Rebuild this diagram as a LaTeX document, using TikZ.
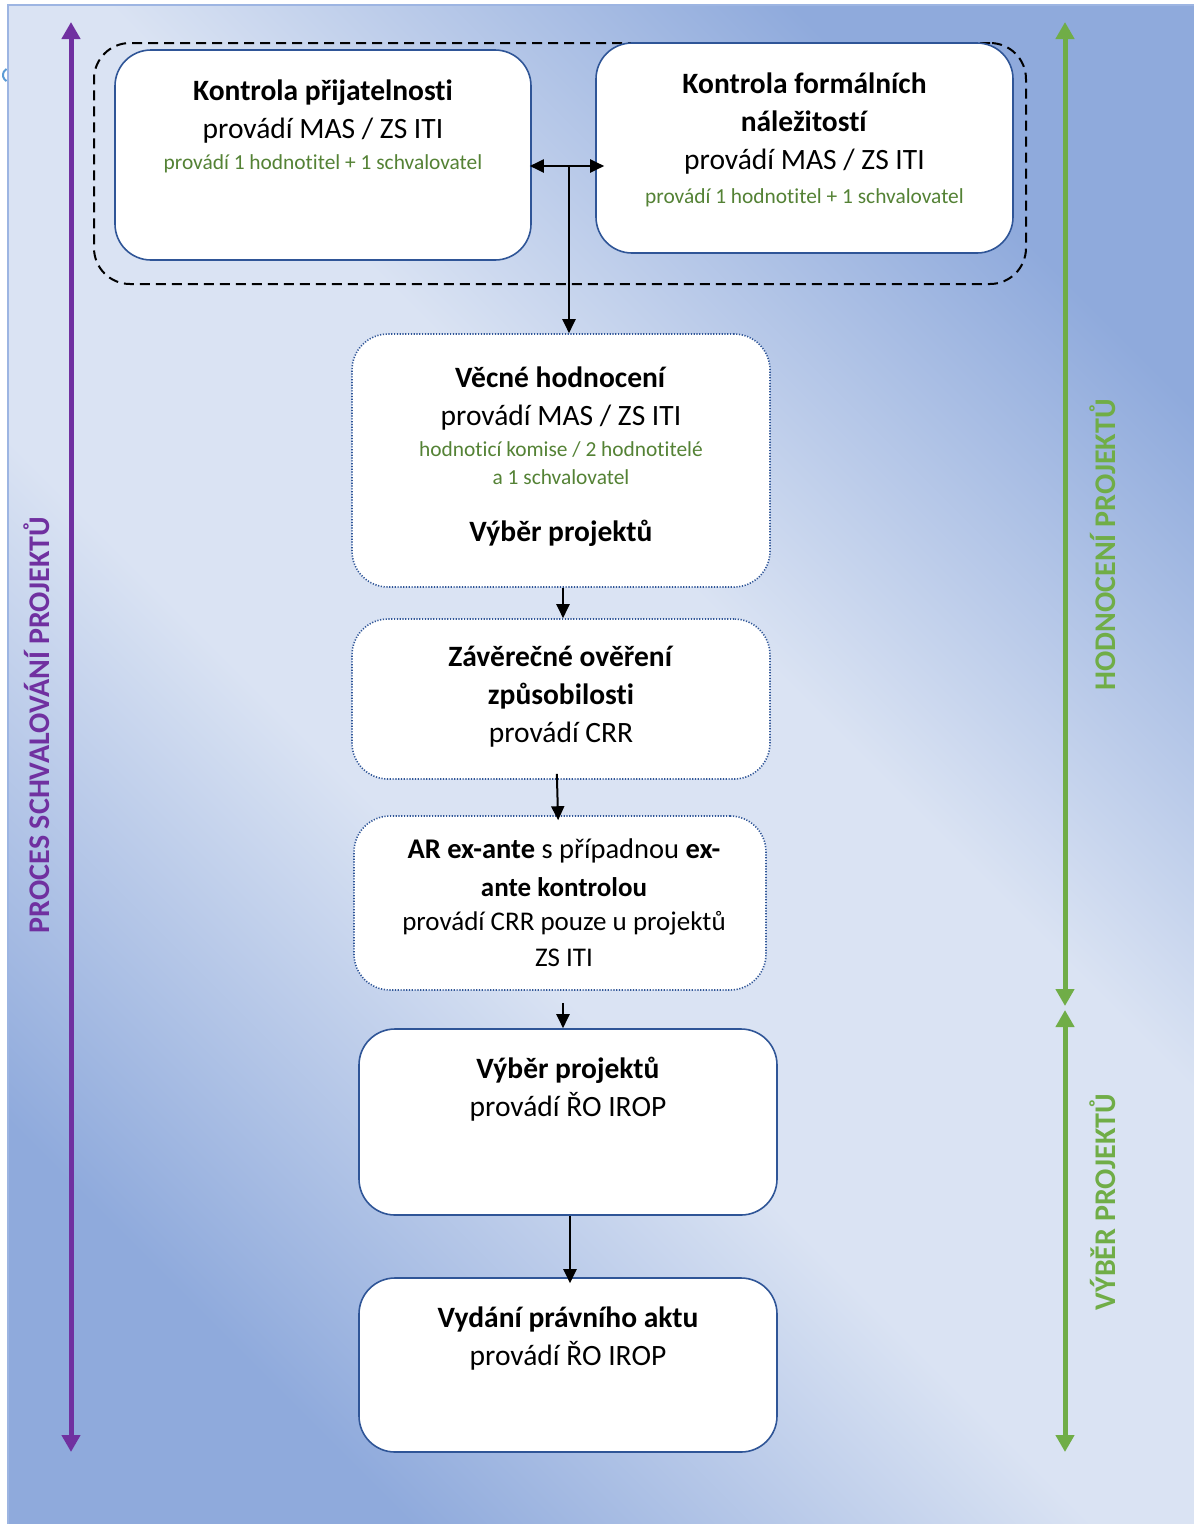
\documentclass[tikz,border=0pt]{standalone}
\usepackage{fontspec}
\setmainfont{Carlito}[Ligatures=NoCommon]
\usetikzlibrary{positioning,arrows.meta}
\definecolor{frame}{HTML}{2F5597}
\definecolor{note}{HTML}{548235}
\definecolor{proc}{HTML}{7030A0}
\definecolor{phase}{HTML}{70AD47}
\definecolor{bglight}{HTML}{DAE3F3}
\definecolor{bgdark}{HTML}{8FAADC}
\definecolor{bgedge}{HTML}{9DB5E2}
\definecolor{stray}{HTML}{5B9BD5}
\pgfdeclareverticalshading{bgband}{100bp}{color(0bp)=(bgdark); color(25bp)=(bgdark);
  color(43bp)=(bglight); color(57bp)=(bglight); color(75bp)=(bgdark); color(100bp)=(bgdark)}
\newcommand\nt{\fontsize{21.4}{28}\selectfont\color{note}}

\begin{document}
\begin{tikzpicture}[x=1pt, y=-1pt,
  solidbox/.style={draw=frame, line width=1.6pt, rounded corners=36pt, fill=white, inner sep=0pt},
  dotbox/.style={solidbox, dash pattern=on 1.2pt off 1.6pt},
  txt/.style={align=center, inner sep=0pt, font=\fontsize{29.5}{38}\selectfont},
  flow/.style={line width=2pt, -{Triangle[length=14pt,width=13pt]}},
  span/.style={line width=5pt, {Triangle[length=17pt,width=18pt]}-{Triangle[length=17pt,width=18pt]}},
  side/.style={rotate=90, inner sep=0pt, font=\fontsize{30}{34}\selectfont\bfseries}
]
\useasboundingbox (0,0) rectangle (1194,1524);

% page background
\draw[stray, line width=2pt] (10,75) ++(120:7) arc[start angle=120, end angle=240, radius=7];
\shade[shading=bgband, shading angle=-45] (8,5) rectangle (1194,1524);
\draw[bgedge, line width=2pt] (8,1524) -- (8,5) -- (1194,5);

% first two checks, grouped
\node[draw, line width=2pt, dash pattern=on 10pt off 6pt, rounded corners=36pt,
      minimum width=932pt, minimum height=241pt] (grp) at (560,163.5) {};
\node[solidbox, minimum width=416pt, minimum height=210pt] (prij) at (323,155) {};
\node[solidbox, minimum width=417pt, minimum height=210pt] (form) at (804.5,148) {};

\node[dotbox, minimum width=418pt, minimum height=253pt] (vecne) at (561,460.5) {};
\node[dotbox, minimum width=418pt, minimum height=160pt] (zav) at (561,699) {};
\node[dotbox, minimum width=412pt, minimum height=174pt] (ar) at (560,903) {};
\node[solidbox, minimum width=418pt, minimum height=186pt] (vyber) at (568,1122) {};
\node[solidbox, minimum width=418pt, minimum height=174pt] (vydani) at (568,1365) {};

\node[txt, below=30pt of prij.north] (prij-t) {%
  \textbf{Kontrola přijatelnosti}\\ provádí MAS / ZS ITI\\[-7pt]
  {\nt provádí 1 hodnotitel + 1 schvalovatel}};
\node[txt, below=30pt of form.north] (form-t) {%
  \textbf{Kontrola formálních}\\ \textbf{náležitostí}\\ provádí MAS / ZS ITI\\[-4pt]
  {\nt provádí 1 hodnotitel + 1 schvalovatel}};
\node[txt, below=33pt of vecne.north] (vecne-t) {%
  \textbf{Věcné hodnocení}\\ provádí MAS / ZS ITI\\[-7pt]
  {\nt hodnoticí komise / 2 hodnotitelé}\\[-10pt] {\nt a 1 schvalovatel}\\[19pt]
  \textbf{Výběr projektů}};
\node[txt, below=28pt of zav.north] (zav-t) {%
  \textbf{Závěrečné ověření}\\ \textbf{způsobilosti}\\ provádí CRR};
\node[txt, below=23pt of ar.north, xshift=4pt, font=\fontsize{27}{38}\selectfont] (ar-t) {%
  {\fontsize{28.5}{38}\selectfont\textbf{AR ex-ante} s případnou \textbf{ex-}}\\
  \textbf{ante kontrolou}\\[-4pt]
  provádí CRR pouze u projektů\\[-2pt] ZS ITI};
\node[txt, below=29pt of vyber.north] (vyber-t) {%
  \textbf{Výběr projektů}\\ provádí ŘO IROP};
\node[txt, below=29pt of vydani.north] (vydani-t) {%
  \textbf{Vydání právního aktu}\\ provádí ŘO IROP};

% connectors
\coordinate (fork) at (569,166);
\draw[line width=2pt, {Triangle[length=14pt,width=13pt]}-{Triangle[length=14pt,width=13pt]},
      shorten <=-2pt, shorten >=-9pt] (prij.east |- fork) -- (form.west |- fork);
\draw[flow] (fork) -- (fork |- vecne.north);
\draw[flow] ([xshift=2pt]vecne.south) -- ([xshift=2pt]zav.north);
\draw[flow, shorten <=-6pt, shorten >=-5pt] ([xshift=-4pt]zav.south) -- ([xshift=-2pt]ar.north);
\draw[flow, shorten <=12pt] ([xshift=3pt]ar.south) -- ([xshift=-5pt]vyber.north);
\draw[flow, shorten >=-6pt] ([xshift=2pt]vyber.south) -- ([xshift=2pt]vydani.north);

% phase arrows at the sides
\coordinate (pt) at (71,22);    \coordinate (pb) at (71,1452);
\coordinate (gt) at (1065,22);  \coordinate (gm) at (1065,1006);
\coordinate (gn) at (1065,1010); \coordinate (gb) at (1065,1452);
\draw[span, proc] (pt) -- (pb);
\draw[span, phase] (gt) -- (gm);
\draw[span, phase] (gn) -- (gb);

\node[side, text=proc] (proc-l) at (37,725) {PROCES SCHVALOVÁNÍ PROJEKTŮ};
\node[side, text=phase] (hodn-l) at (1103,545) {HODNOCENÍ PROJEKTŮ};
\node[side, text=phase] (vyb-l) at (1103,1202) {VÝBĚR PROJEKTŮ};

\end{tikzpicture}
\end{document}
